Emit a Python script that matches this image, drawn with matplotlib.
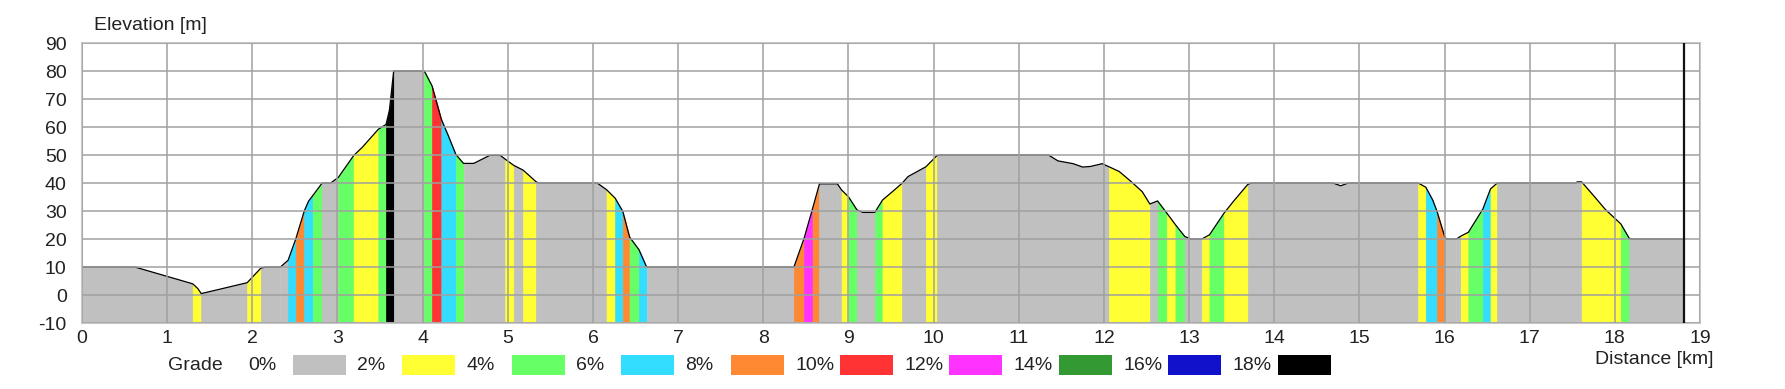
import matplotlib.pyplot as plt
from matplotlib.patches import Rectangle

# elevation profile
dist_km = [0.00, 0.62, 1.30, 1.36, 1.40, 1.94, 2.02, 2.10, 2.16, 2.33, 2.42,
           2.51, 2.61, 2.66, 2.71, 2.82, 2.92, 3.01, 3.19, 3.29, 3.48, 3.57,
           3.61, 3.66, 4.02, 4.11, 4.22, 4.30, 4.39, 4.48, 4.60, 4.79, 4.91,
           4.97, 5.07, 5.18, 5.33, 5.36, 6.05, 6.16, 6.26, 6.35, 6.43, 6.54,
           6.63, 8.36, 8.48, 8.58, 8.66, 8.87, 8.92, 9.00, 9.10, 9.17, 9.31,
           9.40, 9.52, 9.63, 9.70, 9.91, 10.04, 10.08, 11.35, 11.46, 11.64,
           11.75, 11.84, 11.98, 12.06, 12.18, 12.32, 12.45, 12.54, 12.63,
           12.74, 12.84, 12.95, 13.02, 13.15, 13.24, 13.41, 13.52, 13.69,
           13.73, 14.69, 14.78, 14.87, 15.69, 15.78, 15.86, 15.91, 16.00,
           16.02, 16.14, 16.19, 16.28, 16.45, 16.54, 16.62, 17.54, 17.56,
           17.61, 17.75, 17.89, 18.01, 18.07, 18.17, 18.20, 18.81]
elev_m = [10.0, 10.0, 4.0, 2.3, 0.5, 4.4, 7.0, 9.6, 10.0, 10.0, 12.4,
          20.0, 30.0, 33.5, 35.5, 40.0, 40.0, 42.0, 49.8, 52.7, 59.2, 60.9,
          66.0, 80.0, 80.0, 74.7, 62.7, 57.0, 50.2, 47.0, 47.0, 49.9, 49.9,
          48.5, 46.3, 44.6, 40.5, 40.0, 40.0, 37.6, 34.6, 29.9, 20.7, 16.2,
          10.0, 10.0, 20.3, 31.0, 39.7, 39.7, 37.5, 35.1, 30.4, 29.5, 29.5,
          33.9, 37.0, 39.9, 42.3, 45.8, 49.8, 50.0, 50.0, 47.9, 46.9,
          45.7, 45.9, 46.9, 45.8, 44.1, 40.5, 36.9, 32.5, 33.6,
          29.2, 25.1, 20.9, 20.0, 20.0, 21.5, 29.2, 33.4, 39.5,
          40.0, 40.0, 39.0, 40.0, 40.0, 38.5, 34.0, 30.0, 21.0,
          20.0, 20.0, 21.0, 22.4, 30.7, 37.9, 40.0, 40.0, 40.4,
          40.4, 35.5, 30.5, 27.1, 25.4, 20.2, 20.0, 20.0]
# grade class of each segment (index into grade_colors)
seg_grade = [0, 0, 1, 1, 0, 1, 1, 0, 0, 0,
             3, 4, 3, 3, 2, 0, 0, 2, 1, 1, 2,
             9, 9, 0, 2, 5, 3, 3, 2, 0, 0, 0,
             0, 1, 0, 1, 0, 0, 0, 1, 3, 4, 2,
             3, 0, 4, 6, 4, 0, 0, 1, 2, 0, 0,
             2, 1, 1, 0, 0, 1, 0, 0, 0, 0,
             0, 0, 0, 0, 1, 1, 1, 1, 0,
             2, 1, 2, 0, 0, 1, 2, 1, 1,
             0, 0, 0, 0, 0, 1, 3, 3, 4,
             0, 0, 0, 1, 2, 3, 1, 0, 0,
             0, 1, 1, 1, 1, 2, 0, 0]
route_end_km = 18.81

grade_labels = ['0%', '2%', '4%', '6%', '8%', '10%', '12%', '14%', '16%', '18%']
grade_colors = ['#C0C0C0', '#FFFF33', '#66FF66', '#33DDFF', '#FF8833',
                '#FF3333', '#FF33FF', '#339933', '#1111CC', '#000000']

W, H = 1785, 389
plt.rcParams['font.family'] = ['Liberation Sans', 'DejaVu Sans']
plt.rcParams['axes.unicode_minus'] = False
fig = plt.figure(figsize=(W / 100, H / 100), dpi=100)
ax = fig.add_axes([82 / W, 66 / H, 1618 / W, 280 / H])

for i, g in enumerate(seg_grade):
    xs = dist_km[i:i + 2]
    ys = elev_m[i:i + 2]
    ax.fill_between(xs, ys, -10, color=grade_colors[g], lw=0.5, zorder=1)

ax.plot(dist_km, elev_m, color='black', lw=0.9, zorder=2)
ax.axvline(route_end_km, color='#111111', lw=1.6, zorder=3)

ax.set_xlim(0, 19)
ax.set_ylim(-10, 90)
ax.set_xticks(range(0, 20))
ax.set_yticks(range(-10, 91, 10))
ax.grid(True, color='#A0A0A0', lw=1.1)
ax.set_axisbelow(False)
ax.tick_params(length=0, labelsize=14, colors='#222222')
ax.tick_params(axis='x', pad=5)
ax.tick_params(axis='y', pad=11)
for s in ax.spines.values():
    s.set_color('#C8C8C8')
    s.set_linewidth(1.5)

fig.text(94 / W, 1 - 25 / H, 'Elevation [m]', fontsize=14, va='center', color='#222222')
fig.text(1713 / W, 1 - 360 / H, 'Distance [km]', fontsize=14, ha='right', va='center',
         color='#222222')

# grade legend under the axis
fig.text(168 / W, 1 - 365 / H, 'Grade', fontsize=14, va='center', color='#222222')
for i, (lab, col) in enumerate(zip(grade_labels, grade_colors)):
    bx = 293 + i * 109.4
    fig.text((bx - 45) / W, 1 - 365 / H, lab, fontsize=14, va='center', color='#222222')
    fig.add_artist(Rectangle((bx / W, 1 - 375 / H), 53 / W, 20 / H,
                             transform=fig.transFigure, facecolor=col, edgecolor='none'))

fig.savefig('out.png', dpi=100)
